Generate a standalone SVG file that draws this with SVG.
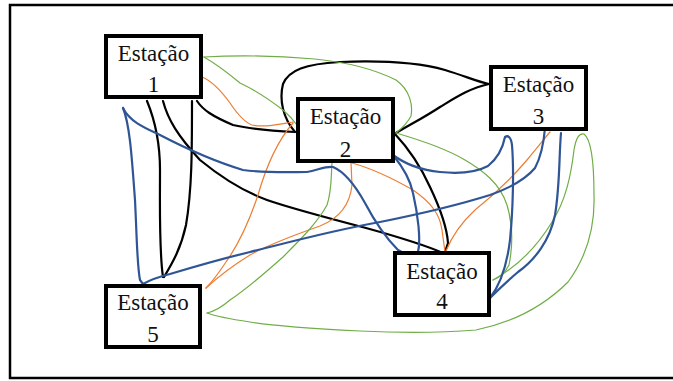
<svg xmlns="http://www.w3.org/2000/svg" width="673" height="381" viewBox="0 0 673 381">
  <style>
    .frame { fill: none; stroke: #000; stroke-width: 2.5; }
    .box { fill: #fff; stroke: #000; stroke-width: 4; }
    .lbl { font-family: "Liberation Serif", "Times New Roman", serif; font-size: 23px; fill: #111; text-anchor: middle; }
    .c { fill: none; stroke-linecap: round; stroke-linejoin: round; }
    .k { stroke: #000; stroke-width: 2.2; }
    .b { stroke: #2F5597; stroke-width: 2.2; }
    .o { stroke: #ED7D31; stroke-width: 1.2; }
    .g { stroke: #70AD47; stroke-width: 1.2; }
  </style>

  <!-- outer frame (right edge runs past the canvas) -->
  <rect class="frame" x="10" y="5" width="672" height="373"/>

  <g id="connectors">
    <!-- black -->
    <path class="c k" d="M147,101 C154,118 160,140 160,170 C160,210 159,250 163,277"/>
    <path class="c k" d="M192,101 C192,150 192,190 186,225 C181,248 173,262 164,277"/>
    <path class="c k" d="M197,101 C203,110 212,116 233,125 C255,130 275,131 295,132"/>
    <path class="c k" d="M163,101 C168,120 178,136 200,160 C222,178 245,192 267,200 C290,208 320,216 366,228 C395,236 420,243 443,253"/>
    <path class="c k" d="M395,134 C410,150 420,165 430,187 C440,208 447,228 448,243 L445,252"/>
    <path class="c k" d="M295,132 C283,118 279,100 283,84 C289,70 305,64 340,62 C390,60 420,63 445,70 C465,76 478,82 489,84"/>
    <path class="c k" d="M489,84 C470,88 455,98 440,107 C425,117 411,124 396,133"/>

    <!-- orange -->
    <path class="c o" d="M202,77 C212,81 222,92 230,103 C238,115 244,122 252,125 C265,128 280,124 293,122"/>
    <path class="c o" d="M293,123 C280,138 268,160 258,195 C248,225 238,245 226,262 C218,274 212,282 206,288"/>
    <path class="c o" d="M206,288 C218,277 232,266 250,255 C270,244 300,233 320,226 C340,218 350,205 352,185 L351,163"/>
    <path class="c o" d="M352,163 C370,168 392,178 413,190 C432,203 440,215 442,230 L445,252"/>
    <path class="c o" d="M446,251 C452,236 462,222 475,210 C490,198 510,180 527,160 C538,147 544,139 550,132"/>

    <!-- green -->
    <path class="c g" d="M204,57 C218,65 228,73 240,83 C255,90 270,100 283,110 C290,116 294,121 297,125"/>
    <path class="c g" d="M204,57 C240,55 280,56 315,59 C345,62 372,68 396,80 C410,90 413,105 411,116 C407,124 401,129 396,133"/>
    <path class="c g" d="M396,133 C420,140 445,148 465,160 C482,170 500,183 507,205 C513,225 513,245 509,265 C505,273 499,278 493,280"/>
    <path class="c g" d="M493,280 C515,268 535,250 552,222 C566,200 571,175 574,150 C576,138 579,133 584,134 C592,140 594,165 594,195 C595,225 588,255 568,282 C545,305 515,322 476,330 C440,333 400,333 360,331 C320,329 280,327 250,322 C230,319 215,316 207,313"/>
    <path class="c g" d="M207,313 C215,311 222,307 230,300 C245,290 265,273 283,257 C300,240 318,222 327,205 C332,190 331,175 332,163"/>

    <!-- blue -->
    <path class="c b" d="M123,108 C130,125 132,160 135,200 C137,240 137,265 140,280 L143,284"/>
    <path class="c b" d="M143,284 C150,280 158,277 170,274 C200,265 225,258 250,252 C290,242 330,231 380,222 C420,214 455,206 490,195 C510,188 525,180 535,168 C542,155 544,140 545,128"/>
    <path class="c b" d="M123,108 C130,122 145,128 160,135 C185,148 210,160 243,170 C265,173 290,172 307,172 C318,170 326,166 333,167 C345,172 355,185 365,203 C375,222 385,237 398,250 C405,255 413,256 418,252 C421,240 418,215 413,193 C410,178 402,166 393,155"/>
    <path class="c b" d="M393,155 C405,164 420,170 440,172 C460,174 475,173 488,166 C498,158 503,147 505,137 C508,135 511,137 512,145 C514,170 513,210 510,240 C507,265 500,285 490,298"/>
    <path class="c b" d="M561,133 C559,155 560,185 555,215 C550,240 535,260 518,272 C505,283 496,292 490,298"/>
  </g>

  <g id="estacao-1">
    <rect class="box" x="106" y="36" width="95" height="61"/>
    <text class="lbl" x="153.5" y="61">Estação</text>
    <text class="lbl" x="153.5" y="92">1</text>
  </g>
  <g id="estacao-2">
    <rect class="box" x="298" y="99" width="95" height="62"/>
    <text class="lbl" x="345.5" y="124">Estação</text>
    <text class="lbl" x="345.5" y="157">2</text>
  </g>
  <g id="estacao-3">
    <rect class="box" x="491" y="67" width="95" height="62"/>
    <text class="lbl" x="538.5" y="92">Estação</text>
    <text class="lbl" x="538.5" y="124">3</text>
  </g>
  <g id="estacao-4">
    <rect class="box" x="395" y="253" width="94" height="62"/>
    <text class="lbl" x="442" y="279">Estação</text>
    <text class="lbl" x="442" y="309">4</text>
  </g>
  <g id="estacao-5">
    <rect class="box" x="106" y="286" width="94" height="61"/>
    <text class="lbl" x="153" y="310">Estação</text>
    <text class="lbl" x="153" y="342">5</text>
  </g>
</svg>
